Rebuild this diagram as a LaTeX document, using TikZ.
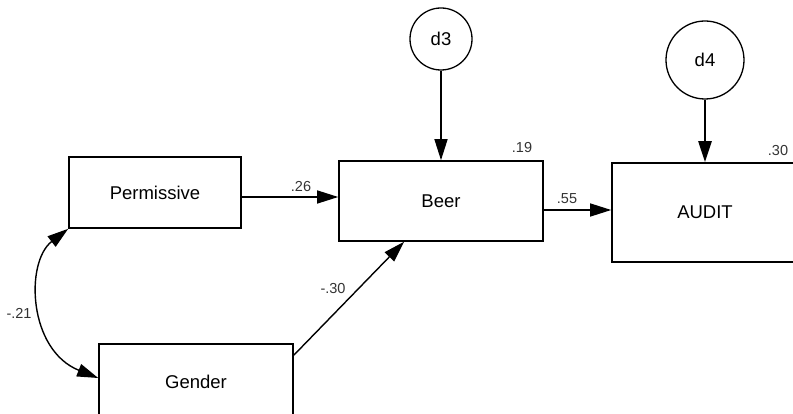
\documentclass[tikz,border=0pt]{standalone}
\usepackage{fontspec}
\setmainfont{Liberation Sans}
\usetikzlibrary{arrows.meta}
\tikzset{
    varbox/.style={draw=black, line width=1.6pt, rectangle, font=\fontsize{18.5}{22}\selectfont},
    errcirc/.style={draw=black, line width=1.3pt, circle, inner sep=0pt, font=\fontsize{18.5}{22}\selectfont},
    coef/.style={inner sep=0pt, font=\fontsize{14.5}{17}\selectfont, text=black!80},
    pathArrow/.style={draw=black, line width=1.4pt, -{Triangle[length=21pt,width=13pt]}},
    covArrow/.style={draw=black, line width=1.4pt, {Triangle[length=21pt,width=13pt]}-{Triangle[length=21pt,width=13pt]}}
}

\begin{document}
\begin{tikzpicture}[x=1pt, y=-1pt]
  % page frame
  \useasboundingbox (0,0) rectangle (793,414);

  % observed variables
  \node[varbox, minimum width=172pt, minimum height=71pt] (perm) at (155,192.5) {Permissive};
  \node[varbox, minimum width=194pt, minimum height=76pt] (gend) at (196,382) {Gender};
  \node[varbox, minimum width=204pt, minimum height=80pt] (beer) at (441,201) {Beer};
  \node[varbox, minimum width=186pt, minimum height=99pt] (audit) at (705,212.5) {AUDIT};

  % disturbances
  \node[errcirc, minimum size=62pt] (d3) at (441,39) {d3};
  \node[errcirc, minimum size=78pt] (d4) at (705,60) {d4};

  % regression paths
  \draw[pathArrow] ([yshift=-4.5pt]perm.east) -- ([yshift=4pt]beer.west);
  \draw[pathArrow] ([yshift=-12pt]gend.north east) -- ([xshift=-37pt]beer.south);
  \draw[pathArrow] ([yshift=-9pt]beer.east) -- ([yshift=2.5pt]audit.west);
  \draw[pathArrow] (d3.south) -- (beer.north);
  \draw[pathArrow, line width=2.4pt] (d4.south) -- (audit.north);

  % covariance
  \draw[covArrow] (perm.south west) .. controls (25,262) and (28,350) .. ([yshift=4pt]gend.west);

  % coefficients
  \node[coef] (c26) at (301,187) {.26};
  \node[coef] (c30) at (333,289) {-.30};
  \node[coef] (c55) at (567,199) {.55};
  \node[coef] (c21) at (19,313) {-.21};
  \node[coef] (r19) at (522,148) {.19};
  \node[coef] (r30) at (778,151) {.30};
\end{tikzpicture}
\end{document}
